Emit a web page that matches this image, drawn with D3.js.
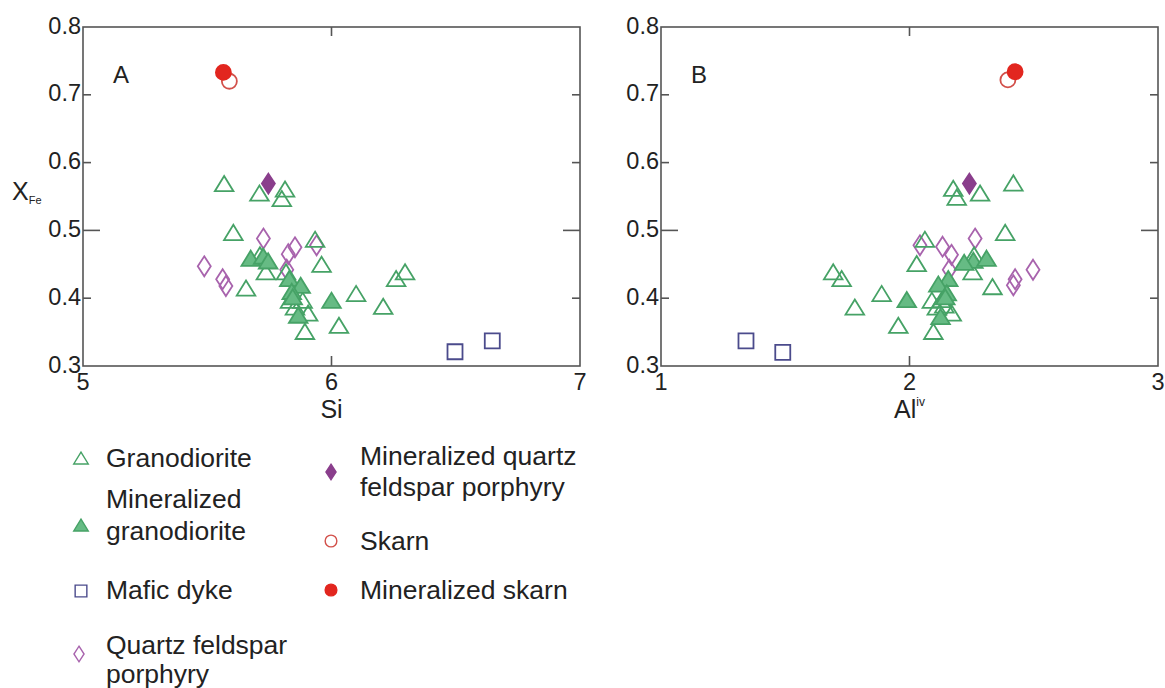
<!DOCTYPE html>
<html>
<head>
<meta charset="utf-8">
<script src="https://cdn.jsdelivr.net/npm/d3@7/dist/d3.min.js"></script>
<style>
  html, body { margin: 0; padding: 0; background: #fff; }
  svg { display: block; font-family: "Liberation Sans", Arial, Helvetica, sans-serif; }
</style>
</head>
<body>
<svg id="chart" width="1165" height="688"></svg>
<script>
// ---- Tick values ----
const yTicks = [0.3, 0.4, 0.5, 0.6, 0.7, 0.8];
const siTicks = [5, 6, 7];
const alTicks = [1, 2, 3];

// ---- Panel A: Si vs X_Fe ----
const granoA = [
  [5.568, 0.569], [5.71, 0.555], [5.813, 0.561], [5.80, 0.547], [5.605, 0.497],
  [5.934, 0.487], [5.96, 0.45], [5.656, 0.415], [5.712, 0.464], [5.736, 0.439],
  [5.817, 0.439], [5.833, 0.397], [5.884, 0.397], [5.906, 0.378], [5.853, 0.387],
  [6.099, 0.407], [6.03, 0.36], [5.893, 0.351], [6.208, 0.388], [6.296, 0.439],
  [6.26, 0.429]
];
const minGranoA = [
  [5.675, 0.459], [5.725, 0.462], [5.745, 0.455], [5.83, 0.429], [5.876, 0.419],
  [5.84, 0.41], [5.844, 0.402], [5.866, 0.375], [6.0, 0.397]
];
const maficA = [[6.497, 0.321], [6.647, 0.337]];
const qfpA = [
  [5.726, 0.488], [5.853, 0.475], [5.826, 0.465], [5.94, 0.478], [5.82, 0.442],
  [5.488, 0.447], [5.562, 0.428], [5.575, 0.418]
];
const minQfpA = [[5.746, 0.569]];
const skarnA = [[5.589, 0.720]];
const minSkarnA = [[5.565, 0.733]];

// ---- Panel B: Al(iv) vs X_Fe ----
const granoB = [
  [2.418, 0.570], [2.284, 0.555], [2.176, 0.562], [2.19, 0.549], [2.385, 0.497],
  [2.062, 0.487], [2.029, 0.451], [2.334, 0.417], [2.254, 0.439], [2.26, 0.464],
  [1.693, 0.439], [1.727, 0.429], [1.888, 0.407], [1.78, 0.387], [1.955, 0.36],
  [2.096, 0.351], [2.09, 0.397], [2.13, 0.398], [2.11, 0.387], [2.17, 0.378],
  [2.14, 0.39]
];
const minGranoB = [
  [1.989, 0.398], [2.257, 0.456], [2.31, 0.459], [2.22, 0.453], [2.156, 0.429],
  [2.116, 0.421], [2.15, 0.408], [2.144, 0.402], [2.125, 0.373]
];
const maficB = [[1.342, 0.337], [1.49, 0.320]];
const qfpB = [
  [2.042, 0.478], [2.133, 0.476], [2.169, 0.464], [2.264, 0.488], [2.16, 0.442],
  [2.418, 0.419], [2.425, 0.428], [2.497, 0.442]
];
const minQfpB = [[2.241, 0.569]];
const skarnB = [[2.396, 0.722]];
const minSkarnB = [[2.425, 0.734]];

// ---- Legend entries ----
const legendLabels = [
  ["Granodiorite"],
  ["Mineralized", "granodiorite"],
  ["Mafic dyke"],
  ["Quartz feldspar", "porphyry"],
  ["Mineralized quartz", "feldspar porphyry"],
  ["Skarn"],
  ["Mineralized skarn"]
];

// ---- Marker styles ----
const GREEN = "#46a266", GREEN_FILL = "#66bb84";
const PURPLE = "#a863ad", PURPLE_DARK = "#8a3e8c";
const NAVY = "#4b4b8c", RED = "#e2261f", RED_OPEN = "#d2504a";

function shapePath(kind, s) {
  // s = scale factor; shapes centred on (0,0)
  if (kind === "tri") {
    const w = 9.3 * s, h = 7.6 * s;
    return `M0,${-h}L${w},${h}L${-w},${h}Z`;
  }
  if (kind === "dia") {
    const w = 6.5 * s, h = 10 * s;
    return `M0,${-h}L${w},0L0,${h}L${-w},0Z`;
  }
  if (kind === "sq") {
    const a = 7.5 * s;
    return `M${-a},${-a}H${a}V${a}H${-a}Z`;
  }
  const r = 7.5 * s;
  return `M${r},0A${r},${r},0,1,1,${-r},0A${r},${r},0,1,1,${r},0Z`;
}

const styles = {
  grano:     { kind: "tri", fill: "none", stroke: GREEN },
  minGrano:  { kind: "tri", fill: GREEN_FILL, stroke: GREEN },
  mafic:     { kind: "sq",  fill: "none", stroke: NAVY },
  qfp:       { kind: "dia", fill: "none", stroke: PURPLE },
  minQfp:    { kind: "dia", fill: PURPLE_DARK, stroke: PURPLE_DARK },
  skarn:     { kind: "cir", fill: "none", stroke: RED_OPEN },
  minSkarn:  { kind: "cir", fill: RED, stroke: RED }
};

const svg = d3.select("#chart");
const plotTop = 27, plotBottom = 366;

function drawPanel(opts) {
  const x = d3.scaleLinear().domain(opts.xDomain).range([opts.left, opts.right]);
  const y = d3.scaleLinear().domain([0.3, 0.8]).range([plotBottom, plotTop]);
  const g = svg.append("g");
  const axisColor = "#555";

  // frame
  g.append("rect")
    .attr("x", x.range()[0]).attr("y", plotTop)
    .attr("width", x.range()[1] - x.range()[0]).attr("height", plotBottom - plotTop)
    .attr("fill", "none").attr("stroke", axisColor).attr("stroke-width", 1.6);

  // y ticks (inside, both sides); the 0.5 tick is longer
  const inner = yTicks.filter(v => v > 0.3 && v < 0.8);
  inner.forEach(v => {
    const len = v === 0.5 ? 17 : 8;
    g.append("line").attr("x1", x.range()[0]).attr("x2", x.range()[0] + len)
      .attr("y1", y(v)).attr("y2", y(v)).attr("stroke", axisColor).attr("stroke-width", 1.6);
    g.append("line").attr("x1", x.range()[1]).attr("x2", x.range()[1] - len)
      .attr("y1", y(v)).attr("y2", y(v)).attr("stroke", axisColor).attr("stroke-width", 1.6);
  });
  // x ticks (inside, top and bottom)
  opts.xTicks.slice(1, -1).forEach(v => {
    g.append("line").attr("x1", x(v)).attr("x2", x(v))
      .attr("y1", plotBottom).attr("y2", plotBottom - 10).attr("stroke", axisColor).attr("stroke-width", 1.6);
    g.append("line").attr("x1", x(v)).attr("x2", x(v))
      .attr("y1", plotTop).attr("y2", plotTop + 9).attr("stroke", axisColor).attr("stroke-width", 1.6);
  });

  // tick labels
  g.selectAll(".ylab").data(yTicks).join("text")
    .attr("x", x.range()[0] - 2).attr("y", d => y(d) + 6.5)
    .attr("text-anchor", "end").attr("font-size", 23.5).attr("fill", "#222")
    .text(d => d.toFixed(1));
  g.selectAll(".xlab").data(opts.xTicks).join("text")
    .attr("x", d => x(d)).attr("y", 390)
    .attr("text-anchor", "middle").attr("font-size", 23.5).attr("fill", "#222")
    .text(d => d);

  // panel letter
  g.append("text").attr("x", opts.left + 30).attr("y", 83)
    .attr("font-size", 24).attr("fill", "#222").text(opts.letter);

  // x-axis title
  const t = g.append("text").attr("x", (opts.left + opts.right) / 2).attr("y", 418)
    .attr("text-anchor", "middle").attr("font-size", 25).attr("fill", "#222");
  t.append("tspan").text(opts.xTitle);
  if (opts.xSup) {
    t.append("tspan").attr("font-size", 12).attr("dy", -12).text(opts.xSup);
  }

  // y-axis title (left panel only)
  if (opts.yTitle) {
    const yt = g.append("text").attr("x", opts.left - 71).attr("y", 200)
      .attr("font-size", 25).attr("fill", "#222");
    yt.append("tspan").text("X");
    yt.append("tspan").attr("font-size", 11).attr("dy", 4).text("Fe");
  }

  // markers, drawn in layer order
  opts.series.forEach(([key, pts]) => {
    const st = styles[key];
    g.append("g").selectAll("path").data(pts).join("path")
      .attr("transform", d => `translate(${x(d[0])},${y(d[1])})`)
      .attr("d", shapePath(st.kind, 1))
      .attr("fill", st.fill).attr("stroke", st.stroke)
      .attr("stroke-width", 1.8).attr("stroke-linejoin", "miter");
  });
}

drawPanel({
  left: 83, right: 580, xDomain: [5, 7], xTicks: siTicks, letter: "A",
  xTitle: "Si", yTitle: true,
  series: [["mafic", maficA], ["qfp", qfpA], ["grano", granoA], ["minGrano", minGranoA],
           ["minQfp", minQfpA], ["skarn", skarnA], ["minSkarn", minSkarnA]]
});
drawPanel({
  left: 661, right: 1158, xDomain: [1, 3], xTicks: alTicks, letter: "B",
  xTitle: "Al", xSup: "iv", yTitle: false,
  series: [["mafic", maficB], ["qfp", qfpB], ["grano", granoB], ["minGrano", minGranoB],
           ["minQfp", minQfpB], ["skarn", skarnB], ["minSkarn", minSkarnB]]
});

// ---- Legend ----
const legendKeys = ["grano", "minGrano", "mafic", "qfp", "minQfp", "skarn", "minSkarn"];
const legendPos = [
  { mx: 81, my: 458, tx: 106, ty: [458] },
  { mx: 81, my: 525, tx: 106, ty: [499, 531] },
  { mx: 81, my: 591, tx: 106, ty: [590] },
  { mx: 79, my: 654, tx: 106, ty: [645, 674] },
  { mx: 331, my: 472, tx: 360, ty: [456, 487] },
  { mx: 331, my: 541, tx: 360, ty: [541] },
  { mx: 331, my: 590, tx: 360, ty: [590] }
];
const lg = svg.append("g");
legendKeys.forEach((key, i) => {
  const st = styles[key], p = legendPos[i];
  lg.append("path")
    .attr("transform", `translate(${p.mx},${p.my})`)
    .attr("d", shapePath(st.kind, 0.78))
    .attr("fill", st.fill).attr("stroke", st.stroke).attr("stroke-width", 1.4);
  legendLabels[i].forEach((line, j) => {
    lg.append("text").attr("x", p.tx).attr("y", p.ty[j] + 9)
      .attr("font-size", 26.5).attr("fill", "#222").text(line);
  });
});
</script>
</body>
</html>
